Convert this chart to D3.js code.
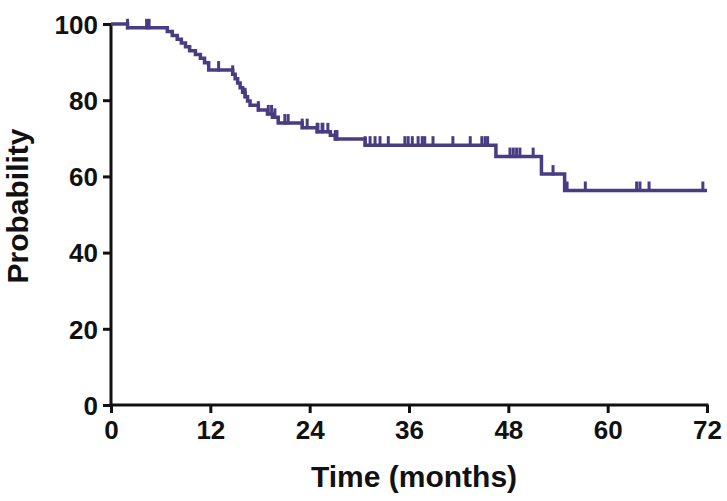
<!DOCTYPE html>
<html>
<head>
<meta charset="utf-8">
<script src="https://cdn.jsdelivr.net/npm/d3@7"></script>
<style>
  html, body { margin: 0; padding: 0; background: #fff; }
  svg { display: block; }
  text { font-family: Arial, "Liberation Sans", sans-serif; font-weight: bold; fill: #111; }
</style>
</head>
<body>
<svg id="chart" width="727" height="501"></svg>
<script>
// Kaplan-Meier step data (time in months, survival probability in %)
const eventTimes = [0, 2.0, 6.8, 7.4, 8.0, 8.5, 9.0, 9.5, 10.2, 10.8, 11.3, 11.8,
                    14.7, 15.0, 15.3, 15.6, 15.9, 16.2, 16.5, 16.8,
                    17.8, 18.9, 19.5, 20.2, 23.1, 24.9, 26.5, 27.1, 30.7, 46.5, 52.0, 54.8, 72];
const eventSurv  = [100, 99, 98, 97, 96, 95, 94, 93, 92, 91, 89.8, 87.9,
                    86.8, 85.6, 84.5, 83.3, 82.1, 80.9, 79.8, 78.7,
                    77.4, 76.4, 75.5, 74.0, 72.8, 71.7, 70.8, 69.8, 68.2, 65.2, 60.6, 56.3, 56.3];
// Censored observations (tick marks)
const censorTimes = [2.0, 4.3, 4.6, 13.0, 14.7, 16.2, 17.8, 19.0, 19.4, 19.8, 21.0, 21.4,
                     23.1, 23.7, 24.9, 25.0, 25.5, 25.6, 26.2, 27.1, 27.3,
                     30.7, 31.3, 31.9, 32.5, 33.5, 35.5, 35.9, 36.4, 37.1, 37.6, 37.9,
                     38.9, 41.3, 43.4, 44.8, 45.2, 45.5, 48.2, 48.6, 49.0, 49.4, 51.0,
                     53.4, 55.1, 57.3, 63.5, 63.9, 65.0, 71.5];
const xTicks = [0, 12, 24, 36, 48, 60, 72];
const yTicks = [0, 20, 40, 60, 80, 100];

const svg = d3.select("#chart");
const x = d3.scaleLinear().domain([0, 72]).range([111, 707]);
const y = d3.scaleLinear().domain([0, 100]).range([405, 24]);
const lineColor = "#4a3c82";

function survAt(t) {
  let s = eventSurv[0];
  for (let i = 0; i < eventTimes.length; i++) {
    if (eventTimes[i] <= t) s = eventSurv[i];
  }
  return s;
}

// Axes
const xAxis = d3.axisBottom(x).tickValues(xTicks).tickSize(8).tickPadding(8).tickSizeOuter(0);
const yAxis = d3.axisLeft(y).tickValues(yTicks).tickSize(8).tickPadding(5).tickSizeOuter(0);

const gx = svg.append("g").attr("transform", "translate(0,405)").call(xAxis);
const gy = svg.append("g").attr("transform", "translate(111,0)").call(yAxis);
[gx, gy].forEach(g => {
  g.select(".domain").attr("stroke", "#111").attr("stroke-width", 3);
  g.selectAll(".tick line").attr("stroke", "#111").attr("stroke-width", 3);
  g.selectAll(".tick text").style("font-size", "26px").style("font-weight", "bold")
    .style("font-family", "Arial, 'Liberation Sans', sans-serif").attr("fill", "#111");
});
gx.select(".domain").attr("d", `M${x(0) - 1.5},0H${x(72) + 1.5}`);
gy.select(".domain").attr("d", `M0,${y(100) - 1}V${y(0) + 1.5}`);
gy.selectAll(".tick text").attr("dy", "0.36em");

// Step curve
const pts = eventTimes.map((t, i) => [t, eventSurv[i]]);
const line = d3.line().x(d => x(d[0])).y(d => y(d[1])).curve(d3.curveStepAfter);
svg.append("path")
  .attr("d", line(pts))
  .attr("fill", "none")
  .attr("stroke", lineColor)
  .attr("stroke-width", 3.5);

// Censor ticks
svg.append("g").selectAll("line")
  .data(censorTimes)
  .join("line")
  .attr("x1", d => x(d)).attr("x2", d => x(d))
  .attr("y1", d => y(survAt(d)) - 9)
  .attr("y2", d => y(survAt(d)) + 1.5)
  .attr("stroke", lineColor)
  .attr("stroke-width", 3);

// Axis titles
svg.append("text")
  .attr("x", 414).attr("y", 487)
  .attr("text-anchor", "middle")
  .style("font-size", "30px")
  .text("Time (months)");

svg.append("text")
  .attr("transform", "translate(28,206) rotate(-90)")
  .attr("text-anchor", "middle")
  .style("font-size", "30px")
  .text("Probability");
</script>
</body>
</html>
